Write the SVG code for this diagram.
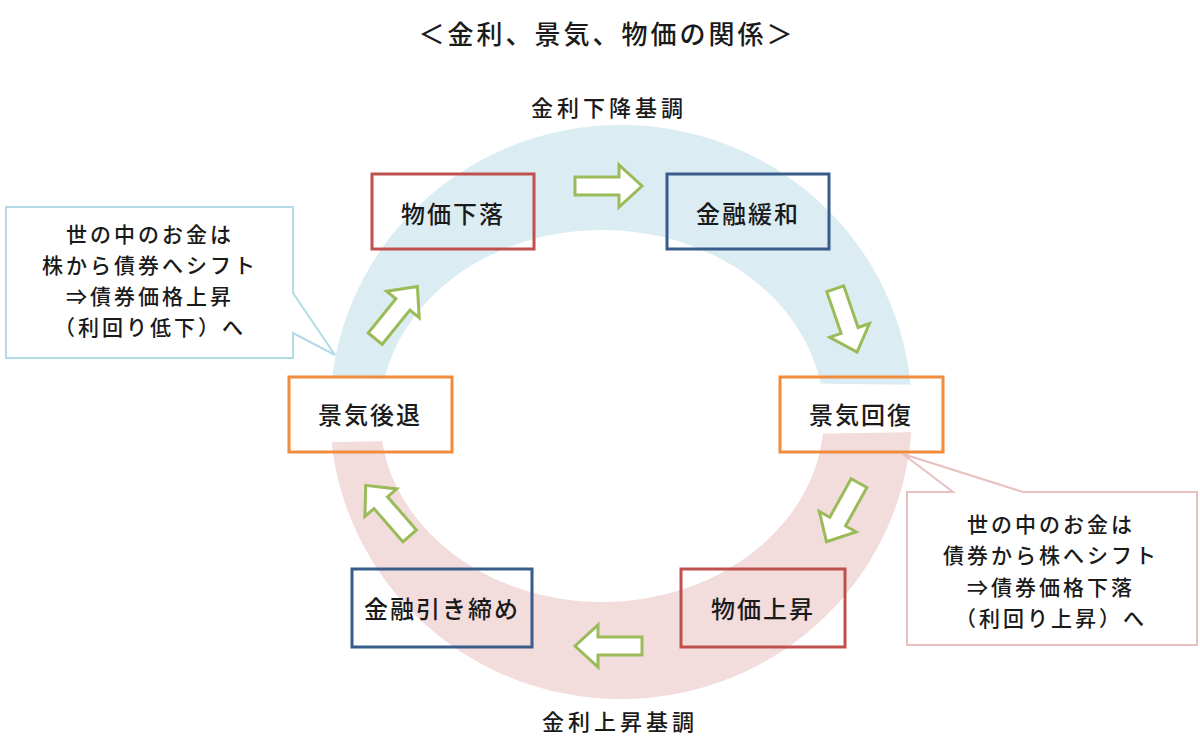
<svg xmlns="http://www.w3.org/2000/svg" width="1200" height="753" viewBox="0 0 1200 753">
<style>
text{font-family:"Noto Sans CJK JP","Noto Sans CJK SC",sans-serif;font-weight:500;fill:#1a1a1a;text-anchor:middle;dominant-baseline:central}
.title{font-size:26px;letter-spacing:3px}
.sub{font-size:22px;letter-spacing:4px}
.bt{font-size:24px;letter-spacing:2px}
.ct{font-size:21px;letter-spacing:3px}
.box{fill:none;stroke-width:3}
.red{stroke:#c0504d}
.blue{stroke:#385d8a}
.orange{stroke:#f08c3c}
.arr{fill:#fff;stroke:#9bbb59;stroke-width:3;stroke-linejoin:miter}
</style>
<defs>
<path id="ring" fill-rule="evenodd" d="M330,412 A291,287 0 1 0 912,412 A291,287 0 1 0 330,412 Z M380,416 A222,186 0 1 0 824,416 A222,186 0 1 0 380,416 Z"/>
<clipPath id="topc"><polygon points="0,0 1200,0 1200,388 0,374"/></clipPath>
<clipPath id="botc"><polygon points="0,448 1200,427 1200,753 0,753"/></clipPath>
<path id="ba" d="M-33,-9 L11,-9 L11,-21 L34,0 L11,21 L11,9 L-33,9 Z"/>
</defs>
<rect width="1200" height="753" fill="#fff"/>
<g id="ring-bands">
<use href="#ring" fill="#dbedf3" clip-path="url(#topc)"/>
<use href="#ring" fill="#f2dcdc" clip-path="url(#botc)"/>
</g>
<text class="title" x="607" y="32">＜金利、景気、物価の関係＞</text>
<text class="sub" x="609" y="106">金利下降基調</text>
<text class="sub" x="620" y="720">金利上昇基調</text>
<g id="connectors">
<use href="#ba" class="arr" transform="translate(608,186)"/>
<use href="#ba" class="arr" transform="translate(846,320) rotate(71)"/>
<use href="#ba" class="arr" transform="translate(843,512) rotate(119)"/>
<use href="#ba" class="arr" transform="translate(609,646) rotate(180)"/>
<use href="#ba" class="arr" transform="translate(388,511) rotate(229)"/>
<use href="#ba" class="arr" transform="translate(396,313) rotate(-51)"/>
</g>
<g id="n-bukka-geraku"><rect class="box red" x="372" y="174" width="162" height="75"/><text class="bt" x="453" y="212">物価下落</text></g>
<g id="n-kinyu-kanwa"><rect class="box blue" x="667" y="174" width="162" height="75"/><text class="bt" x="748" y="212">金融緩和</text></g>
<g id="n-keiki-kaifuku"><rect class="box orange" x="780" y="377" width="163" height="75"/><text class="bt" x="861" y="413">景気回復</text></g>
<g id="n-keiki-kotai"><rect class="box orange" x="289" y="377" width="163" height="75"/><text class="bt" x="370" y="413">景気後退</text></g>
<g id="n-bukka-josho"><rect class="box red" x="681" y="569" width="164" height="78"/><text class="bt" x="763" y="607">物価上昇</text></g>
<g id="n-kinyu-hikishime"><rect class="box blue" x="352" y="569" width="180" height="78"/><text class="bt" x="442" y="607">金融引き締め</text></g>
<g id="callout-left">
<path d="M6,207 H293 V293 L335,355 L293,333 V358 H6 Z" fill="#fff" stroke="#b3dbe6" stroke-width="2"/>
<text class="ct" x="150" y="233">世の中のお金は</text>
<text class="ct" x="150" y="264">株から債券へシフト</text>
<text class="ct" x="150" y="295">⇒債券価格上昇</text>
<text class="ct" x="150" y="326">（利回り低下）へ</text>
</g>
<g id="callout-right">
<path d="M907,492 H953 L903,454 L1023,492 H1197 V645 H907 Z" fill="#fff" stroke="#e8c0bf" stroke-width="2"/>
<text class="ct" x="1051" y="523">世の中のお金は</text>
<text class="ct" x="1051" y="554">債券から株へシフト</text>
<text class="ct" x="1051" y="586">⇒債券価格下落</text>
<text class="ct" x="1051" y="617">（利回り上昇）へ</text>
</g>
</svg>
